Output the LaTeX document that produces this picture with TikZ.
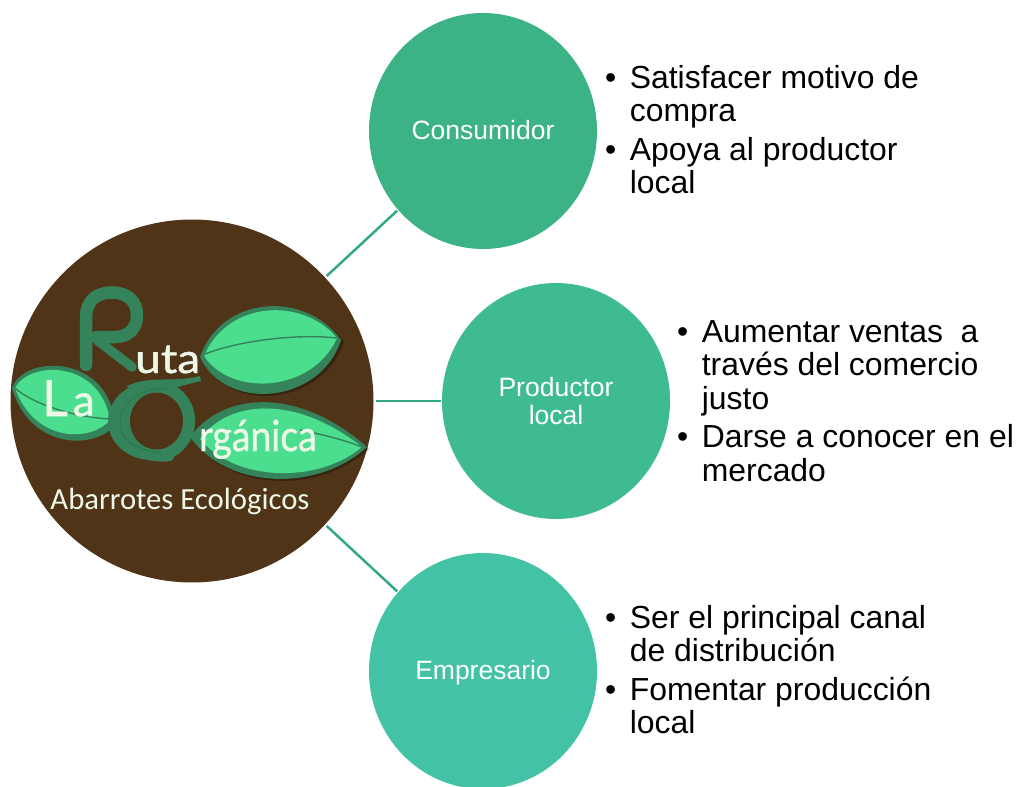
\documentclass[tikz,border=0pt]{standalone}
\usepackage{fontspec}
\usetikzlibrary{shapes.geometric}
\setmainfont{Liberation Sans}
\newfontfamily\logofont{Carlito}
\newfontfamily\lettersfont[RawFeature={embolden=1.0}]{Lato}
\definecolor{logobrown}{HTML}{503418}
\definecolor{leafdark}{HTML}{35835A}
\definecolor{leafdeep}{HTML}{30784F}
\definecolor{leaflight}{HTML}{4ADE8E}
\definecolor{paletext}{HTML}{EEF8E8}
\definecolor{cA}{HTML}{3CB385}
\definecolor{cB}{HTML}{3FBB94}
\definecolor{cC}{HTML}{43C2A6}
\definecolor{linkA}{HTML}{35AA7C}
\newcommand{\bulletlist}[1]{\fontsize{31.9}{33.5}\selectfont\begin{tabular}{@{}l@{\hspace{13.5pt}}l@{}}#1\end{tabular}}
\tikzset{
  x=1pt,y=-1pt,
  hub/.style={ellipse,fill=#1,draw=none,minimum width=228pt,minimum height=236pt,inner sep=0pt,text=white,align=center,font=\fontsize{26.5}{28}\selectfont},
  hubline/.style={text height=19pt,text depth=2pt},
  logodisc/.style={circle,fill=logobrown,draw=none,minimum size=363pt,inner sep=0pt},
  link/.style={draw=linkA,line width=2.5pt,shorten <=2pt,shorten >=1pt},
  notes/.style={anchor=north west,inner sep=0pt,text=black},
  leafshadow/.style={fill=black,fill opacity=.3,draw=none},
  leafoutline/.style={fill=leafdark,draw=none},
  leaffill/.style={fill=leaflight,draw=none},
  vein/.style={draw=leafdark,line width=1.4pt},
  glyphstroke/.style={draw=leafdark,line width=12.5pt,line cap=round,line join=round},
  logoword/.style={text=paletext,inner sep=0pt,anchor=base west},
}
\begin{document}
\begin{tikzpicture}
\useasboundingbox (0,0) rectangle (1018,787);
\node[logodisc] (logo) at (192,401) {};
\node[hub=cA,hubline] (cons) at (483,131) {Consumidor};
\node[hub=cB] (prod) at (556,401) {Productor\\local};
\node[hub=cC,hubline] (emp) at (483,671) {Empresario};
\draw[link] (logo) -- (cons);
\draw[link] (logo) -- (prod);
\draw[link] (logo) -- (emp);
% upper right leaf
\path[leafshadow] (202,359) .. controls (224,297) and (307,292) .. (344,342) .. controls (322,407) and (227,414) .. (202,359) -- cycle;
\path[leafoutline] (200,357) .. controls (222,295) and (305,290) .. (341,340) .. controls (320,405) and (225,412) .. (200,357) -- cycle;
\path[leaffill] (204,356) .. controls (228,300) and (303,297) .. (337,338) .. controls (313,392) and (232,398) .. (204,356) -- cycle;
\draw[vein] (203,355) .. controls (230,343) and (290,333) .. (337,338);
% left leaf
\path[leafoutline] (12,388) .. controls (25,353) and (110,355) .. (115,425) .. controls (95,450) and (30,450) .. (12,388) -- cycle;
\path[leaffill] (15,388) .. controls (30,360) and (100,360) .. (110,420) .. controls (90,443) and (34,442) .. (15,388) -- cycle;
\draw[vein] (15,388) .. controls (30,402) and (70,417) .. (110,419);
% lower leaf
\path[leafshadow] (192,439) .. controls (227,392) and (302,390) .. (369,449) .. controls (320,494) and (230,492) .. (192,439) -- cycle;
\path[leafoutline] (190,437) .. controls (225,390) and (300,388) .. (367,447) .. controls (318,492) and (228,490) .. (190,437) -- cycle;
\path[leaffill] (200,439) .. controls (230,398) and (298,396) .. (362,447) .. controls (318,484) and (235,482) .. (200,439) -- cycle;
\draw[vein] (300,430) .. controls (320,434) and (345,440) .. (362,447);
% R
\draw[glyphstroke] (86,365) -- (86,318) .. controls (86,300) and (97,292.5) .. (112,292.5) .. controls (128,292.5) and (137,302) .. (137,315) .. controls (137,329) and (128,337) .. (115,337) -- (97,337);
\draw[draw=leafdark,line width=9.5pt,line cap=round] (97,340) -- (132,367);
% Q ring, swoosh and tail
\fill[leafdark] (151.5,421) ellipse [x radius=43.5pt,y radius=39pt];
\fill[leafdark] (156.5,421) ellipse [x radius=38.5pt,y radius=40pt];
\fill[leafdark] (127,386) .. controls (150,375) and (175,383) .. (200,376) -- (201,381) .. controls (185,385) and (175,387) .. (165,392) -- (135,395) -- cycle;
\fill[logobrown] (156.5,421) ellipse [x radius=26.5pt,y radius=28.5pt];
\draw[leafdark,line width=8pt,line cap=round] (150,456) .. controls (158,458) and (165,458) .. (170,457);
\draw[leafdeep,line width=1.2pt] (172,390) .. controls (150,384) and (121,398) .. (120,422) .. controls (119,442) and (140,450) .. (160,453);
% words
\node[logoword,font=\lettersfont] (wordruta) at (135,373) {\fontsize{41}{41}\selectfont\scalebox{1.12}[1]{uta}};
\node[logoword,font=\lettersfont] (wordla) at (42,416) {\fontsize{50}{50}\selectfont L\kern5pt\fontsize{44}{44}\selectfont a};
\node[logoword,font=\lettersfont] (wordorg) at (199,451) {\fontsize{43}{43}\selectfont\scalebox{.87}[1]{rgánica}};
\node[text=paletext,inner sep=0pt,anchor=base,font=\logofont\fontsize{30.7}{30.7}\selectfont] (tagline) at (180,509) {Abarrotes Ecológicos};
% lists
\node[notes] (n1) at (605,64.5) {\bulletlist{•&Satisfacer motivo de\\&compra\\[5pt]•&Apoya al productor\\&local}};
\node[notes] (n2) at (677,318.5) {\bulletlist{•&Aumentar ventas~ a\\&través del comercio\\&justo\\[5pt]•&Darse a conocer en el\\&mercado}};
\node[notes] (n3) at (605,604.5) {\bulletlist{•&Ser el principal canal\\&de distribución\\[5pt]•&Fomentar producción\\&local}};
\end{tikzpicture}
\end{document}
